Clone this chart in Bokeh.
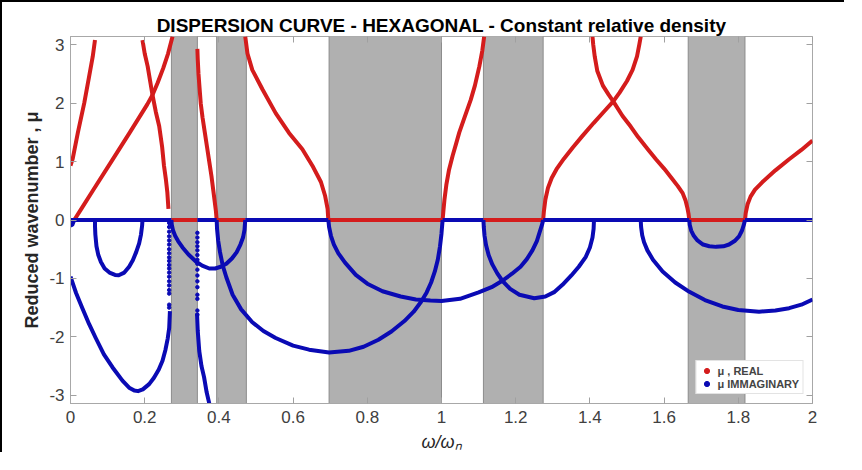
from bokeh.plotting import figure
from bokeh.models import Range1d, Legend, LegendItem, FixedTicker, LinearAxis
from bokeh.embed import file_html
from bokeh.resources import INLINE

# ---------------- data ----------------
band_left = [0.272, 0.394, 0.697, 1.113, 1.665]
band_right = [0.342, 0.474, 1.000, 1.274, 1.818]

real_zero_start = [0.272, 0.394, 0.695, 1.113, 1.668]
real_zero_end = [0.342, 0.471, 1.003, 1.274, 1.818]

r1_x = [0.0, 0.006, 0.02, 0.037, 0.05, 0.06, 0.066]
r1_y = [0.93, 1.05, 1.5, 2.0, 2.45, 2.8, 3.08]
r2_x = [0.01, 0.03, 0.06, 0.11, 0.16, 0.207, 0.221, 0.235, 0.25, 0.263, 0.275]
r2_y = [0.0, 0.2, 0.5, 1.0, 1.5, 1.98, 2.14, 2.35, 2.6, 2.85, 3.14]
r3_x = [0.194, 0.2, 0.208, 0.221, 0.23, 0.239, 0.247, 0.252, 0.257, 0.261, 0.264]
r3_y = [3.08, 2.85, 2.63, 2.14, 1.85, 1.61, 1.25, 0.93, 0.7, 0.475, 0.19]
r4_x = [0.342, 0.343, 0.345, 0.348, 0.351, 0.356, 0.362, 0.368, 0.374, 0.38, 0.385, 0.389, 0.392, 0.394]
r4_y = [2.93, 2.75, 2.5, 2.25, 2.0, 1.75, 1.5, 1.25, 1.0, 0.75, 0.5, 0.3, 0.15, 0.0]
r5_x = [0.471, 0.477, 0.49, 0.518, 0.553, 0.589, 0.625, 0.652, 0.675, 0.686, 0.693, 0.695]
r5_y = [3.14, 2.85, 2.57, 2.23, 1.83, 1.49, 1.21, 0.93, 0.65, 0.42, 0.19, 0.0]
r6_x = [1.003, 1.005, 1.008, 1.013, 1.02, 1.03, 1.04, 1.048, 1.06, 1.079, 1.09, 1.102, 1.11, 1.115]
r6_y = [0.0, 0.15, 0.35, 0.6, 0.85, 1.1, 1.32, 1.5, 1.72, 2.06, 2.3, 2.63, 2.9, 3.14]
r7_x = [1.274, 1.276, 1.28, 1.287, 1.297, 1.31, 1.33, 1.355, 1.38, 1.41, 1.44, 1.463, 1.48, 1.5,
        1.515, 1.527, 1.533, 1.537]
r7_y = [0.0, 0.15, 0.35, 0.55, 0.72, 0.87, 1.05, 1.25, 1.44, 1.66, 1.87, 2.03, 2.18, 2.38,
        2.57, 2.8, 3.0, 3.14]
r8_x = [1.407, 1.409, 1.413, 1.42, 1.435, 1.45, 1.463, 1.488, 1.51, 1.53, 1.555, 1.578, 1.6,
        1.62, 1.637, 1.65, 1.658, 1.663, 1.666, 1.668]
r8_y = [3.14, 3.0, 2.8, 2.55, 2.3, 2.15, 2.03, 1.78, 1.6, 1.42, 1.22, 1.04, 0.88,
        0.72, 0.58, 0.46, 0.33, 0.2, 0.1, 0.0]
r9_x = [1.818, 1.82, 1.825, 1.833, 1.845, 1.865, 1.9, 1.937, 1.97, 2.0]
r9_y = [0.0, 0.12, 0.27, 0.4, 0.52, 0.65, 0.85, 1.04, 1.2, 1.36]

b0_x = [0.0, 0.005, 0.01]
b0_y = [-0.1, -0.08, 0.0]
b1_x = [0.0, 0.008, 0.015, 0.032, 0.05, 0.068, 0.09, 0.113, 0.14, 0.158, 0.172, 0.182, 0.195,
        0.212, 0.225, 0.238, 0.248, 0.256, 0.262, 0.266, 0.268]
b1_y = [-0.97, -1.12, -1.25, -1.51, -1.78, -2.02, -2.3, -2.52, -2.75, -2.87, -2.92, -2.93, -2.9,
        -2.81, -2.7, -2.56, -2.41, -2.22, -2.03, -1.85, -1.56]
b2_x = [0.066, 0.066, 0.067, 0.07, 0.075, 0.082, 0.092, 0.105, 0.12, 0.13, 0.145, 0.158, 0.168,
        0.177, 0.185, 0.19, 0.193, 0.194]
b2_y = [0.0, -0.1, -0.25, -0.45, -0.6, -0.72, -0.83, -0.9, -0.94, -0.945, -0.9, -0.8, -0.69,
        -0.55, -0.4, -0.25, -0.1, 0.0]
b3_x = [0.272, 0.273, 0.276, 0.282, 0.29, 0.302, 0.318, 0.338, 0.355, 0.374, 0.39, 0.405, 0.42,
        0.435, 0.448, 0.458, 0.465, 0.469, 0.471]
b3_y = [0.0, -0.08, -0.17, -0.27, -0.36, -0.47, -0.59, -0.71, -0.78, -0.83, -0.83, -0.8, -0.75,
        -0.66, -0.55, -0.42, -0.3, -0.17, 0.0]
b4_x = [0.341, 0.343, 0.347, 0.353, 0.36, 0.367, 0.374]
b4_y = [-1.6, -1.9, -2.24, -2.5, -2.69, -2.95, -3.14]
b5_x = [0.394, 0.395, 0.398, 0.403, 0.41, 0.42, 0.437, 0.46, 0.49, 0.52, 0.553, 0.6, 0.643,
        0.697, 0.75, 0.79, 0.83, 0.865, 0.9, 0.925, 0.945, 0.96, 0.972, 0.982, 0.99, 0.996,
        1.0, 1.003]
b5_y = [0.0, -0.15, -0.35, -0.55, -0.77, -0.98, -1.28, -1.53, -1.75, -1.9, -2.02, -2.15, -2.22,
        -2.27, -2.24, -2.17, -2.05, -1.91, -1.73, -1.57, -1.4, -1.24, -1.07, -0.88, -0.68, -0.45,
        -0.23, 0.0]
b6_x = [0.695, 0.697, 0.702, 0.71, 0.722, 0.74, 0.769, 0.8, 0.841, 0.89, 0.931, 0.97, 1.0, 1.05,
        1.1, 1.135, 1.164, 1.19, 1.213, 1.23, 1.245, 1.257, 1.265, 1.271, 1.274]
b6_y = [0.0, -0.12, -0.27, -0.42, -0.57, -0.73, -0.94, -1.09, -1.22, -1.31, -1.36, -1.38, -1.385,
        -1.35, -1.24, -1.15, -1.04, -0.92, -0.8, -0.67, -0.52, -0.36, -0.2, -0.08, 0.0]
b7_x = [1.113, 1.114, 1.116, 1.12, 1.127, 1.137, 1.15, 1.164, 1.185, 1.21, 1.25, 1.28, 1.305,
        1.326, 1.35, 1.37, 1.389, 1.4, 1.407, 1.41, 1.411]
b7_y = [0.0, -0.12, -0.27, -0.43, -0.6, -0.76, -0.91, -1.04, -1.18, -1.28, -1.34, -1.31, -1.23,
        -1.11, -0.95, -0.8, -0.63, -0.47, -0.3, -0.15, 0.0]
b8_x = [1.537, 1.538, 1.541, 1.546, 1.555, 1.57, 1.596, 1.63, 1.668, 1.71, 1.757, 1.8, 1.856,
        1.9, 1.937, 1.97, 2.0]
b8_y = [0.0, -0.12, -0.26, -0.38, -0.52, -0.68, -0.88, -1.07, -1.23, -1.37, -1.48, -1.54, -1.57,
        -1.55, -1.51, -1.45, -1.36]
b9_x = [1.668, 1.669, 1.673, 1.68, 1.69, 1.705, 1.722, 1.74, 1.76, 1.775, 1.79, 1.802, 1.81,
        1.815, 1.818]
b9_y = [0.0, -0.08, -0.18, -0.27, -0.35, -0.42, -0.45, -0.46, -0.45, -0.42, -0.36, -0.28, -0.18,
        -0.08, 0.0]

dots_a_x = 0.266
dots_a_y = [-0.05, -0.12, -0.2, -0.28, -0.35, -0.42, -0.5, -0.57, -0.64, -0.7, -0.77, -0.83,
            -0.9, -0.97, -1.05, -1.12, -1.2, -1.26, -1.45, -1.5]
dots_b_x = 0.342
dots_b_y = [-0.22, -0.3, -0.38, -0.45, -0.52, -0.6, -0.68, -0.75, -0.85, -0.95, -1.05, -1.15,
            -1.28, -1.35, -1.55, -1.62]

x_ticks = [0, 0.2, 0.4, 0.6, 0.8, 1.0, 1.2, 1.4, 1.6, 1.8, 2.0]
x_tick_labels = ["0", "0.2", "0.4", "0.6", "0.8", "1", "1.2", "1.4", "1.6", "1.8", "2"]
y_ticks = [-3, -2, -1, 0, 1, 2, 3]
y_tick_labels = ["-3", "-2", "-1", "0", "1", "2", "3"]

title_text = "DISPERSION CURVE - HEXAGONAL - Constant relative density"
x_label = "ω/ωₙ"
y_label = "Reduced wavenumber , μ"
legend_labels = ["μ , REAL", "μ IMMAGINARY"]

RED = "#d41c1c"
BLUE = "#0a0ab4"
FONT = "Liberation Sans"

# ---------------- figure ----------------
p = figure(width=844, height=452, output_backend="svg", toolbar_location=None,
           x_range=Range1d(0, 2), y_range=Range1d(-3.1416, 3.1416),
           min_border_left=68, min_border_right=34, min_border_top=34, min_border_bottom=48,
           title=title_text)
p.styles = {"border-top": "2px solid black", "border-left": "2px solid black"}
p.title.text_font = FONT
p.title.text_font_size = "19px"
p.title.text_font_style = "bold"
p.title.text_color = "black"
p.title.align = "center"
p.title.standoff = 2
p.xgrid.visible = False
p.ygrid.visible = False
p.outline_line_color = "#a8a8a8"

# bands
p.quad(left=band_left, right=band_right, bottom=-4, top=4,
       fill_color="#b0b0b0", line_color="#8c8c8c", line_width=1)

# real part
red_xs = [r1_x, r2_x, r3_x, r4_x, r5_x, r6_x, r7_x, r8_x, r9_x]
red_ys = [r1_y, r2_y, r3_y, r4_y, r5_y, r6_y, r7_y, r8_y, r9_y]
p.segment(x0=real_zero_start, y0=[0] * len(real_zero_start), x1=real_zero_end,
          y1=[0] * len(real_zero_end), line_color=RED, line_width=4)
p.multi_line(xs=red_xs, ys=red_ys, line_color=RED, line_width=4, line_join="round")

# imaginary part
edges = [0.0] + [v for pair in zip(real_zero_start, real_zero_end) for v in pair] + [2.0]
blue_zero_start = edges[0::2]
blue_zero_end = edges[1::2]
p.segment(x0=blue_zero_start, y0=[0] * len(blue_zero_start), x1=blue_zero_end,
          y1=[0] * len(blue_zero_end), line_color=BLUE, line_width=4)
blue_xs = [b0_x, b1_x, b2_x, b3_x, b4_x, b5_x, b6_x, b7_x, b8_x, b9_x]
blue_ys = [b0_y, b1_y, b2_y, b3_y, b4_y, b5_y, b6_y, b7_y, b8_y, b9_y]
p.multi_line(xs=blue_xs, ys=blue_ys, line_color=BLUE, line_width=4, line_join="round")
p.scatter(x=[dots_a_x] * len(dots_a_y), y=dots_a_y, size=3.5, color=BLUE)
p.scatter(x=[dots_b_x] * len(dots_b_y), y=dots_b_y, size=3.5, color=BLUE)

# axes
for ax in (p.xaxis[0], p.yaxis[0]):
    ax.major_tick_in = 6
    ax.major_tick_out = 0
    ax.minor_tick_in = 0
    ax.minor_tick_out = 0
    ax.major_tick_line_color = "#a0a0a0"
    ax.axis_line_color = "#a8a8a8"
    ax.major_label_text_font = FONT
    ax.major_label_text_font_size = "17px"
    ax.major_label_text_color = "#404040"
    ax.axis_label_text_font = FONT
    ax.axis_label_text_color = "#262626"

p.xaxis.ticker = FixedTicker(ticks=x_ticks)
p.xaxis.major_label_overrides = dict(zip(x_ticks, x_tick_labels))
p.yaxis.ticker = FixedTicker(ticks=y_ticks)
p.yaxis.major_label_overrides = dict(zip(y_ticks, y_tick_labels))
p.xaxis.major_label_standoff = 7
p.yaxis.major_label_standoff = 6

p.yaxis.axis_label = y_label
p.yaxis.axis_label_text_font_size = "18px"
p.yaxis.axis_label_text_font_style = "bold"
p.yaxis.axis_label_standoff = 4

p.xaxis.axis_label = x_label
p.xaxis.axis_label_text_font_size = "18px"
p.xaxis.axis_label_text_font_style = "italic"
p.xaxis.axis_label_standoff = 6

# box ticks on the top and right edges (MATLAB style), no labels
top_axis = LinearAxis(ticker=FixedTicker(ticks=x_ticks),
                      major_label_overrides={t: "" for t in x_ticks},
                      major_label_standoff=0, axis_line_color=None, major_tick_in=6,
                      major_tick_out=0, minor_tick_in=0, minor_tick_out=0,
                      major_tick_line_color="#a0a0a0")
right_axis = LinearAxis(ticker=FixedTicker(ticks=y_ticks),
                        major_label_overrides={t: "" for t in y_ticks},
                        major_label_standoff=0, axis_line_color=None, major_tick_in=6,
                        major_tick_out=0, minor_tick_in=0, minor_tick_out=0,
                        major_tick_line_color="#a0a0a0")
p.add_layout(top_axis, "above")
p.add_layout(right_axis, "right")

# legend
dr = p.scatter(x=[-10], y=[-10], size=5, color=RED)
db = p.scatter(x=[-10], y=[-10], size=5, color=BLUE)
legend = Legend(items=[LegendItem(label=legend_labels[0], renderers=[dr]),
                       LegendItem(label=legend_labels[1], renderers=[db])],
                location="bottom_right", margin=9, padding=3, spacing=0,
                glyph_width=14, glyph_height=13, label_height=13, label_standoff=4,
                label_text_font=FONT, label_text_font_size="11px",
                label_text_font_style="bold", border_line_color="#c8c8c8",
                background_fill_alpha=1.0)
p.add_layout(legend)

open("out.html", "w").write(file_html(p, INLINE))
